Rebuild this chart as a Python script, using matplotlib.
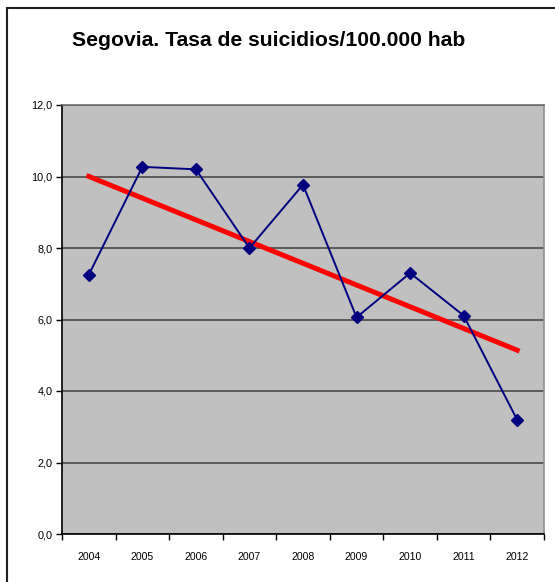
import numpy as np
import matplotlib
matplotlib.use('Agg')
import matplotlib.pyplot as plt
from matplotlib.patches import Rectangle

# Datos
years = ['2004', '2005', '2006', '2007', '2008', '2009', '2010', '2011', '2012']
tasa = [7.25, 10.27, 10.20, 8.00, 9.77, 6.06, 7.30, 6.11, 3.19]
y_ticks = [0, 2, 4, 6, 8, 10, 12]
y_labels = ['0,0', '2,0', '4,0', '6,0', '8,0', '10,0', '12,0']

plt.rcParams['font.family'] = ['Liberation Sans', 'DejaVu Sans']

fig = plt.figure(figsize=[5.55, 5.82], dpi=100)
# marco exterior (como en Excel)
fig.patches.append(Rectangle((7/555, -0.1), 1.2, 1 - 7.5/582 + 0.1,
                             transform=fig.transFigure, fill=False,
                             edgecolor='#202020', lw=1.5))

ax = fig.add_axes([62/555, 48/582, 482/555, 429/582])
ax.set_facecolor('#c0c0c0')

x = np.arange(len(years))
# linea de tendencia (ajuste lineal)
coef = np.polyfit(x, tasa, 1)
ax.plot(x, np.polyval(coef, x), color='#ff0000', lw=3.6, zorder=3)
ax.plot(x, tasa, color='#000080', lw=1.4, marker='D', ms=6.3, zorder=4)

ax.set_xlim(-0.5, len(years) - 0.5)
ax.set_ylim(0, 12)
ax.set_yticks(y_ticks)
ax.set_yticklabels(y_labels, fontsize=7.8)
ax.set_xticks(x)
ax.set_xticklabels(years, fontsize=7.6)
ax.set_xticks(np.arange(len(years) + 1) - 0.5, minor=True)
ax.tick_params(axis='x', which='major', length=0, pad=13)
ax.tick_params(axis='x', which='minor', length=4, direction='out', width=1)
ax.tick_params(axis='y', length=4, direction='out', width=1, pad=3)
ax.grid(axis='y', color='#4a4a4a', lw=1.2)
ax.set_axisbelow(True)

ax.spines['left'].set_color('black')
ax.spines['bottom'].set_color('black')
ax.spines['top'].set_color('#707070')
ax.spines['right'].set_color('#909090')
for s in ax.spines.values():
    s.set_linewidth(1.2)

fig.text(0.484, 0.931, 'Segovia. Tasa de suicidios/100.000 hab',
         ha='center', va='center', fontsize=15.2, fontweight='bold')

fig.savefig('out.png', dpi=100)
